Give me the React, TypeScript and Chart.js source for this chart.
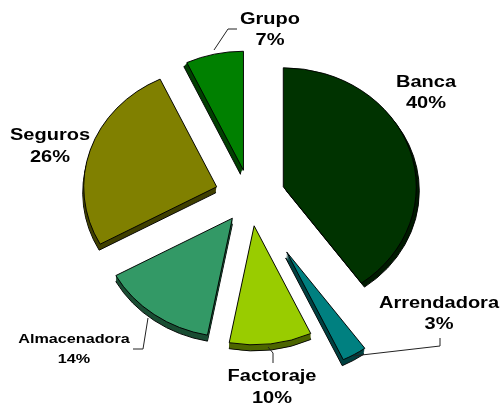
import React, { useEffect, useRef } from "react";
import { Chart, registerables } from "chart.js";

Chart.register(...registerables);

const categories = ["Banca", "Arrendadora", "Factoraje", "Almacenadora", "Seguros", "Grupo"];
const shares = [40, 3, 10, 14, 26, 7];
const faceColors = ["#003300", "#008080", "#99CC00", "#339966", "#808000", "#008000"];
const wallColors = ["#001A00", "#004040", "#4D6600", "#1A4D33", "#404000", "#004000"];
const explode = [35, 72, 33, 30, 35, 30];
const wallVectors = [[3, 4], [-1, 6], [0, 6], [0, 6], [-1, 6], [-3, 4]];

const labelLayout = [
  { x: 426, y: 83, size: 16, gap: 21, stretch: 1.25 },
  { x: 439, y: 304, size: 16, gap: 21, stretch: 1.25 },
  { x: 272, y: 377, size: 16, gap: 22, stretch: 1.25 },
  { x: 74, y: 340, size: 12, gap: 20, stretch: 1.35 },
  { x: 50, y: 136, size: 16, gap: 22, stretch: 1.25 },
  { x: 270, y: 20, size: 16, gap: 21, stretch: 1.25 },
];
const leaders = [
  null,
  [[353, 356], [440, 346], [440, 338]],
  [[268, 347], [273, 353], [273, 363]],
  [[148, 318], [143, 349], [133, 349]],
  null,
  [[214, 50], [228, 29], [237, 29]],
];

const SQUASH = 0.895;

const pie3d = {
  id: "pie3d",
  beforeDatasetDraw(chart: any, args: any) {
    const ctx = chart.ctx;
    const arcs = args.meta.data;
    const cy = (chart.chartArea.top + chart.chartArea.bottom) / 2;
    arcs.forEach((arc: any, i: number) => {
      const mid = (arc.startAngle + arc.endAngle) / 2;
      const ox = Math.cos(mid) * explode[i];
      const oy = Math.sin(mid) * explode[i];
      const [wx, wy] = wallVectors[i];
      const steps = Math.max(Math.abs(wx), Math.abs(wy));
      for (let k = steps; k >= 1; k--) {
        ctx.save();
        ctx.translate((wx * k) / steps, (wy * k) / steps);
        ctx.translate(0, cy);
        ctx.scale(1, SQUASH);
        ctx.translate(0, -cy);
        ctx.translate(ox, oy);
        ctx.beginPath();
        ctx.moveTo(arc.x, arc.y);
        ctx.arc(arc.x, arc.y, arc.outerRadius, arc.startAngle, arc.endAngle);
        ctx.closePath();
        ctx.fillStyle = wallColors[i];
        ctx.fill();
        if (k === steps) {
          ctx.strokeStyle = "#000000";
          ctx.lineWidth = 1;
          ctx.stroke();
        }
        ctx.restore();
      }
      ctx.save();
      ctx.translate(0, cy);
      ctx.scale(1, SQUASH);
      ctx.translate(0, -cy);
      ctx.translate(ox, oy);
      arc.draw(ctx);
      ctx.restore();
    });
    return false;
  },
  afterDatasetsDraw(chart: any) {
    const ctx = chart.ctx;
    ctx.save();
    ctx.strokeStyle = "#222222";
    ctx.lineWidth = 1;
    leaders.forEach((pts) => {
      if (!pts) return;
      ctx.beginPath();
      pts.forEach(([x, y], j) => (j ? ctx.lineTo(x, y) : ctx.moveTo(x, y)));
      ctx.stroke();
    });
    ctx.fillStyle = "#000000";
    ctx.textAlign = "center";
    ctx.textBaseline = "middle";
    categories.forEach((name, i) => {
      const l = labelLayout[i];
      ctx.save();
      ctx.translate(l.x, l.y);
      ctx.scale(l.stretch, 1);
      ctx.font = `bold ${l.size}px "Liberation Sans", Arial, sans-serif`;
      ctx.fillText(name, 0, 0);
      ctx.fillText(`${shares[i]}%`, 0, l.gap);
      ctx.restore();
    });
    ctx.restore();
  },
};

export default function App() {
  const ref = useRef<HTMLCanvasElement>(null);
  useEffect(() => {
    const chart = new Chart(ref.current!, {
      type: "pie",
      data: {
        labels: categories,
        datasets: [
          {
            data: shares,
            backgroundColor: faceColors,
            borderColor: "#000000",
            borderWidth: 1,
          },
        ],
      },
      options: {
        responsive: false,
        animation: false,
        radius: 133,
        layout: { padding: { left: 0, right: 0, top: 0, bottom: 15 } },
        plugins: { legend: { display: false }, tooltip: { enabled: false } },
      },
      plugins: [pie3d],
    } as any);
    return () => chart.destroy();
  }, []);
  return (
    <div style={{ position: "absolute", left: 0, top: 0, width: 500, height: 408, background: "#fff" }}>
      <canvas ref={ref} width={500} height={408} style={{ display: "block" }} />
    </div>
  );
}
